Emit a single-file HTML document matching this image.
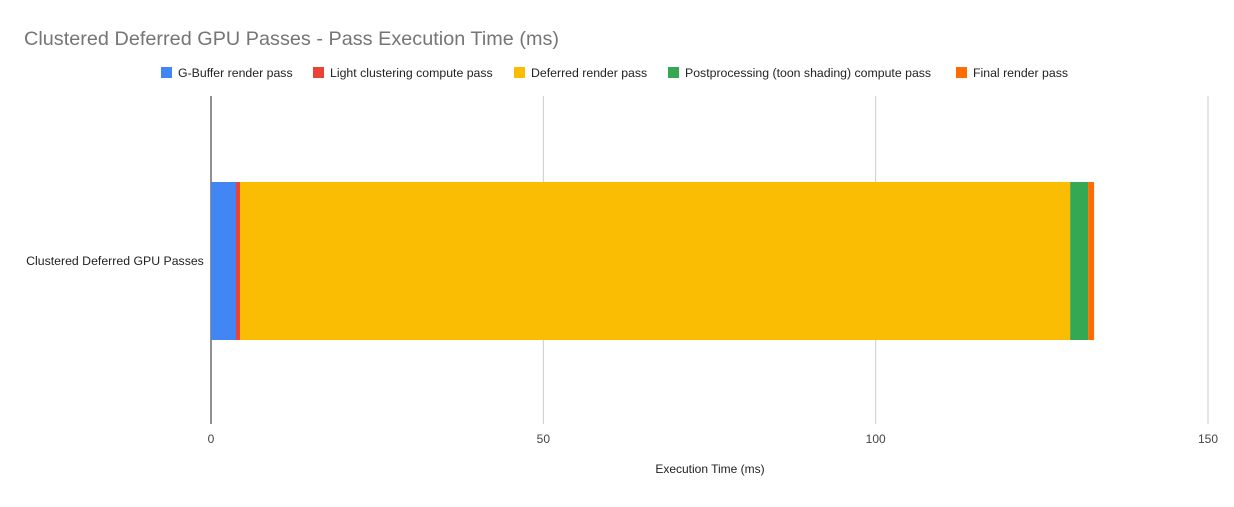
<!DOCTYPE html>
<html><head><meta charset="utf-8"><style>
body{margin:0;background:#fff;font-family:"Liberation Sans",Arial,sans-serif;}
svg text{font-family:"Liberation Sans",Arial,sans-serif;}
</style></head><body>
<svg id="chart" width="1234" height="502">
<text x="24" y="45" font-size="19.8" fill="#757575" textLength="535">Clustered Deferred GPU Passes - Pass Execution Time (ms)</text>
<g id="legend"></g>
<g id="grid"></g>
<g id="bars"></g>
<text x="115" y="265" font-size="12.3" fill="#222" text-anchor="middle">Clustered Deferred GPU Passes</text>
<text x="710" y="473" font-size="12" fill="#222" text-anchor="middle">Execution Time (ms)</text>
</svg>
<script>
const seriesNames=["G-Buffer render pass","Light clustering compute pass","Deferred render pass","Postprocessing (toon shading) compute pass","Final render pass"];
const seriesValues=[3.76,0.6,124.9,2.7,0.9];
const seriesColors=["#4285f4","#ea4335","#fbbc04","#34a853","#ff6d01"];
const xTicks=[0,50,100,150];
const NS="http://www.w3.org/2000/svg";
const x0=211,x1=1208,xmax=150;
const xs=v=>x0+(x1-x0)*v/xmax;
function mk(t,a,p){const e=document.createElementNS(NS,t);for(const k in a)e.setAttribute(k,a[k]);p.appendChild(e);return e;}
const grid=document.getElementById('grid');
xTicks.forEach(t=>{
 const l=mk('line',{x1:xs(t),x2:xs(t),y1:96,y2:424,stroke:t===0?'#222':'#ccc','stroke-width':1},grid);
 
 
 const tx=mk('text',{x:xs(t),y:443,'font-size':12,fill:'#444','text-anchor':'middle'},grid);
 tx.textContent=t;
 
 
});
const bars=document.getElementById('bars');
let acc=0;
seriesValues.forEach((v,i)=>{
 const r=mk('rect',{x:xs(acc),y:182,width:xs(acc+v)-xs(acc),height:158,fill:seriesColors[i]},bars);
 
 
 acc+=v;
});
const lg=document.getElementById('legend');
const lx=[161,313,514,668,956];
seriesNames.forEach((n,i)=>{
 const r=mk('rect',{x:lx[i],y:67,width:11,height:11,fill:seriesColors[i]},lg);
 
 
 const t=mk('text',{x:lx[i]+17,y:77,'font-size':12.3,fill:'#222'},lg);
 t.textContent=n;
 
 
});
</script>
</body></html>
